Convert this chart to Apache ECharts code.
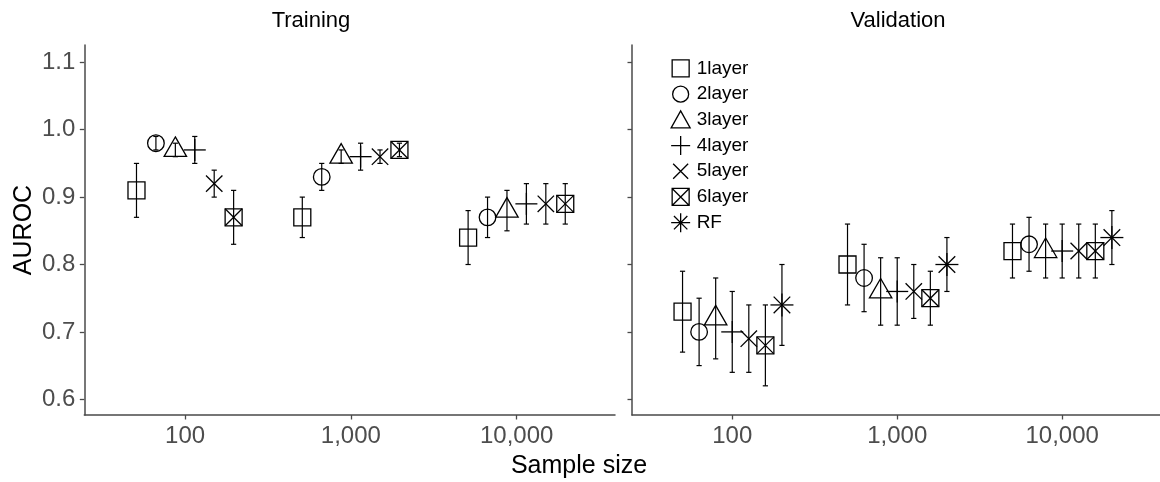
<!DOCTYPE html>
<html><head><meta charset="utf-8">
<script src="https://cdn.jsdelivr.net/npm/echarts@6/dist/echarts.min.js"></script>
<style>html,body{margin:0;padding:0;background:#fff}#c{width:1160px;height:482px}</style>
</head><body><div id="c"></div>
<script>
// ---------- data ----------
const sampleSizes = [100, 1000, 10000];
const xTicks = [100, 1000, 10000];
const yTicks = [0.6, 0.7, 0.8, 0.9, 1.0, 1.1];
const panelTitles = ['Training', 'Validation'];
const models = ['1layer', '2layer', '3layer', '4layer', '5layer', '6layer', 'RF'];
const trainModels = ['1layer', '2layer', '3layer', '4layer', '5layer', '6layer'];

// each entry: [AUROC, lower, upper] for sample sizes 100, 1000, 10000
const train_1layer = [[0.91, 0.87, 0.95], [0.87, 0.84, 0.90], [0.84, 0.80, 0.88]];
const train_2layer = [[0.98, 0.97, 0.99], [0.93, 0.91, 0.95], [0.87, 0.84, 0.90]];
const train_3layer = [[0.97, 0.96, 0.98], [0.96, 0.95, 0.97], [0.88, 0.85, 0.91]];
const train_4layer = [[0.97, 0.95, 0.99], [0.96, 0.94, 0.98], [0.89, 0.86, 0.92]];
const train_5layer = [[0.92, 0.90, 0.94], [0.96, 0.95, 0.97], [0.89, 0.86, 0.92]];
const train_6layer = [[0.87, 0.83, 0.91], [0.97, 0.96, 0.98], [0.89, 0.86, 0.92]];

const valid_1layer = [[0.73, 0.67, 0.79], [0.80, 0.74, 0.86], [0.82, 0.78, 0.86]];
const valid_2layer = [[0.70, 0.65, 0.75], [0.78, 0.73, 0.83], [0.83, 0.79, 0.87]];
const valid_3layer = [[0.72, 0.66, 0.78], [0.76, 0.71, 0.81], [0.82, 0.78, 0.86]];
const valid_4layer = [[0.70, 0.64, 0.76], [0.76, 0.71, 0.81], [0.82, 0.78, 0.86]];
const valid_5layer = [[0.69, 0.64, 0.74], [0.76, 0.72, 0.80], [0.82, 0.78, 0.86]];
const valid_6layer = [[0.68, 0.62, 0.74], [0.75, 0.71, 0.79], [0.82, 0.78, 0.86]];
const valid_RF     = [[0.74, 0.68, 0.80], [0.80, 0.76, 0.84], [0.84, 0.80, 0.88]];

const trainData = {'1layer': train_1layer, '2layer': train_2layer, '3layer': train_3layer,
  '4layer': train_4layer, '5layer': train_5layer, '6layer': train_6layer};
const validData = {'1layer': valid_1layer, '2layer': valid_2layer, '3layer': valid_3layer,
  '4layer': valid_4layer, '5layer': valid_5layer, '6layer': valid_6layer, 'RF': valid_RF};

// ---------- styling / layout ----------
const FONT = '"Liberation Sans", Arial, sans-serif';
const AXIS_COLOR = '#4a4a4a';
const shapeOf = {'1layer': 'square', '2layer': 'circle', '3layer': 'triangle', '4layer': 'plus',
  '5layer': 'cross', '6layer': 'boxcross', 'RF': 'asterisk'};
const legendIcons = {
  square:   'path://M0,0M20,20M1.5,1.5H18.5V18.5H1.5Z',
  circle:   'path://M0,0M20,20M10,2A8,8 0 1,1 9.99,2Z',
  triangle: 'path://M0,0M20,20M10,1L19.5,18H0.5Z',
  plus:     'path://M0,0M20,20M10,0.5V19.5M0.5,10H19.5',
  cross:    'path://M0,0M20,20M2.5,2.5L17.5,17.5M17.5,2.5L2.5,17.5',
  boxcross: 'path://M0,0M20,20M1.5,1.5H18.5V18.5H1.5ZM1.5,1.5L18.5,18.5M18.5,1.5L1.5,18.5',
  asterisk: 'path://M0,0M20,20M10,0.5V19.5M0.5,10H19.5M3.3,3.3L16.7,16.7M16.7,3.3L3.3,16.7'
};
const DODGE = 0.703; // dodge width in log10 units

function dodgeX(size, i, n) {
  return Math.pow(10, Math.log10(size) + (i - (n - 1) / 2) * DODGE / n);
}

function shapeChildren(shape, cx, cy) {
  const st = {stroke: '#000', fill: 'none', lineWidth: 1.3};
  const line = (x1, y1, x2, y2) => ({type: 'line', shape: {x1, y1, x2, y2}, style: st});
  const h = 8.5;
  switch (shape) {
    case 'square': return [{type: 'rect', shape: {x: cx - h, y: cy - h, width: 2 * h, height: 2 * h}, style: st}];
    case 'circle': return [{type: 'circle', shape: {cx, cy, r: 8.3}, style: st}];
    case 'triangle': {
      const r = 13, xc = 11.2;
      return [{type: 'polygon', shape: {points: [[cx, cy - r], [cx + xc, cy + r / 2], [cx - xc, cy + r / 2]]}, style: st}];
    }
    case 'plus': return [line(cx - 11, cy, cx + 11, cy), line(cx, cy - 11, cx, cy + 11)];
    case 'cross': return [line(cx - 8.2, cy - 8.2, cx + 8.2, cy + 8.2), line(cx - 8.2, cy + 8.2, cx + 8.2, cy - 8.2)];
    case 'boxcross': return [{type: 'rect', shape: {x: cx - h, y: cy - h, width: 2 * h, height: 2 * h}, style: st},
      line(cx - h, cy - h, cx + h, cy + h), line(cx - h, cy + h, cx + h, cy - h)];
    case 'asterisk': return [line(cx - 11.5, cy, cx + 11.5, cy), line(cx, cy - 11.5, cx, cy + 11.5),
      line(cx - 8.3, cy - 8.3, cx + 8.3, cy + 8.3), line(cx - 8.3, cy + 8.3, cx + 8.3, cy - 8.3)];
  }
  return [];
}

function makeRender(shape) {
  return function (params, api) {
    const x = api.value(0), y = api.value(1), lo = api.value(2), hi = api.value(3);
    const p = api.coord([x, y]);
    const pl = api.coord([x, lo]);
    const ph = api.coord([x, hi]);
    const es = {stroke: '#000', lineWidth: 1.2};
    const cap = 2.6;
    const children = [
      {type: 'line', shape: {x1: pl[0], y1: pl[1], x2: ph[0], y2: ph[1]}, style: es},
      {type: 'line', shape: {x1: pl[0] - cap, y1: pl[1], x2: pl[0] + cap, y2: pl[1]}, style: es},
      {type: 'line', shape: {x1: ph[0] - cap, y1: ph[1], x2: ph[0] + cap, y2: ph[1]}, style: es}
    ].concat(shapeChildren(shape, p[0], p[1]));
    return {type: 'group', children};
  };
}

function buildSeries(dataMap, modelList, panel) {
  const n = modelList.length;
  return modelList.map((m, i) => ({
    type: 'custom',
    name: m,
    xAxisIndex: panel, yAxisIndex: panel,
    coordinateSystem: 'cartesian2d',
    renderItem: makeRender(shapeOf[m]),
    encode: {x: 0, y: [1, 2, 3]},
    silent: true,
    data: sampleSizes.map((s, k) => [dodgeX(s, i, n), dataMap[m][k][0], dataMap[m][k][1], dataMap[m][k][2]])
  }));
}

function fmtNum(v) {
  return String(Math.round(v)).replace(/\B(?=(\d{3})+(?!\d))/g, ',');
}

const xMin = 24.68, xMax = 39170;
const yMin = 0.5767, yMax = 1.1257;

function xAxisCfg(idx) {
  return {
    type: 'log', gridIndex: idx, logBase: 10, min: xMin, max: xMax,
    axisLine: {show: true, onZero: false, lineStyle: {color: AXIS_COLOR, width: 1.5}},
    axisTick: {show: true, length: 4.5, customValues: xTicks, lineStyle: {color: AXIS_COLOR, width: 1.3}},
    axisLabel: {show: true, customValues: xTicks, margin: 9, fontSize: 24, color: '#4d4d4d', fontFamily: FONT,
      formatter: v => fmtNum(v)},
    splitLine: {show: false}, minorTick: {show: false}
  };
}
function yAxisCfg(idx) {
  return {
    type: 'value', gridIndex: idx, min: yMin, max: yMax,
    axisLine: {show: true, onZero: false, lineStyle: {color: AXIS_COLOR, width: 1.5}},
    axisTick: {show: true, length: 4.5, customValues: yTicks, lineStyle: {color: AXIS_COLOR, width: 1.3}},
    axisLabel: {show: idx === 0, customValues: yTicks, margin: 9, fontSize: 24, color: '#4d4d4d', fontFamily: FONT,
      formatter: v => Number(v).toFixed(1)},
    splitLine: {show: false}
  };
}

const chart = echarts.init(document.getElementById('c'), null, {renderer: 'canvas'});
chart.setOption({
  animation: false,
  backgroundColor: '#fff',
  grid: [
    {left: 84.3, top: 45, width: 530.7, bottom: 67},
    {left: 632, top: 45, width: 530.7, bottom: 67}
  ],
  xAxis: [xAxisCfg(0), xAxisCfg(1)],
  yAxis: [yAxisCfg(0), yAxisCfg(1)],
  legend: {
    orient: 'vertical', left: 665, top: 52.8, padding: 5,
    itemWidth: 20, itemHeight: 20, itemGap: 4.4,
    selectedMode: false,
    textStyle: {fontSize: 19, color: '#000', fontFamily: FONT, padding: [0, 0, 0, 1]},
    itemStyle: {color: 'transparent', borderColor: '#000', borderWidth: 1.3},
    data: models.map(m => ({name: m, icon: legendIcons[shapeOf[m]]}))
  },
  graphic: [
    {type: 'text', x: 311, y: 21, style: {text: panelTitles[0], font: '22px ' + FONT, fill: '#000', align: 'center', verticalAlign: 'middle'}},
    {type: 'text', x: 898, y: 21, style: {text: panelTitles[1], font: '22px ' + FONT, fill: '#000', align: 'center', verticalAlign: 'middle'}},
    {type: 'text', x: 24, y: 230, rotation: Math.PI / 2, style: {text: 'AUROC', font: '25px ' + FONT, fill: '#000', align: 'center', verticalAlign: 'middle'}},
    {type: 'text', x: 579, y: 466, style: {text: 'Sample size', font: '25px ' + FONT, fill: '#000', align: 'center', verticalAlign: 'middle'}}
  ],
  series: buildSeries(trainData, trainModels, 0).concat(buildSeries(validData, models, 1))
});
</script>
</body></html>
